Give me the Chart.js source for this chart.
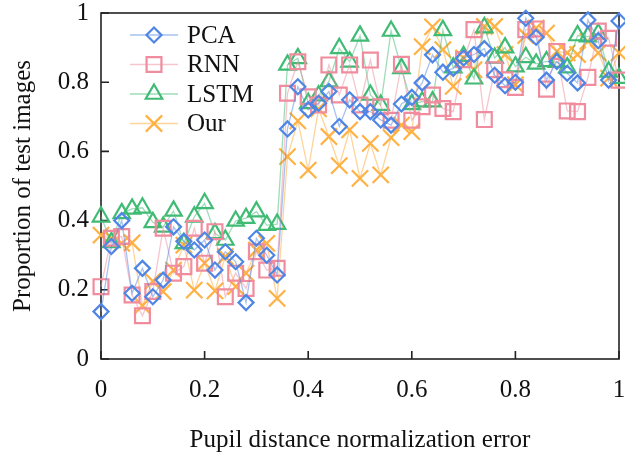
<!DOCTYPE html>
<html><head><meta charset="utf-8">
<script src="https://cdn.jsdelivr.net/npm/chart.js@4/dist/chart.umd.min.js"></script>
<style>html,body{margin:0;padding:0;background:#fff}#wrap{width:625px;height:455px}</style>
</head><body><div id="wrap"><canvas id="c" width="625" height="455"></canvas></div>
<script>
const xValues = [0,0.02,0.04,0.06,0.08,0.1,0.12,0.14,0.16,0.18,0.2,0.22,0.24,0.26,0.28,0.3,0.32,0.34,0.36,0.38,0.4,0.42,0.44,0.46,0.48,0.5,0.52,0.54,0.56,0.58,0.6,0.62,0.64,0.66,0.68,0.7,0.72,0.74,0.76,0.78,0.8,0.82,0.84,0.86,0.88,0.9,0.92,0.94,0.96,0.98,1];
const pcaValues = [0.137,0.325,0.40,0.19,0.262,0.18,0.228,0.382,0.34,0.315,0.344,0.257,0.31,0.281,0.163,0.349,0.30,0.243,0.665,0.787,0.72,0.739,0.773,0.672,0.749,0.715,0.715,0.691,0.676,0.737,0.756,0.798,0.879,0.829,0.84,0.87,0.88,0.897,0.82,0.79,0.80,0.985,0.93,0.806,0.86,0.826,0.798,0.98,0.92,0.806,0.977];
const rnnValues = [0.209,0.349,0.354,0.185,0.125,0.195,0.378,0.248,0.267,0.378,0.277,0.368,0.18,0.248,0.204,0.31,0.257,0.262,0.768,0.859,0.758,0.734,0.85,0.763,0.85,0.734,0.864,0.729,0.69,0.852,0.69,0.729,0.763,0.724,0.715,0.865,0.952,0.692,0.836,0.807,0.785,0.952,0.954,0.78,0.889,0.717,0.715,0.814,0.948,0.927,0.806];
const lstmValues = [0.411,0.337,0.421,0.434,0.437,0.395,0.382,0.428,0.334,0.411,0.45,0.363,0.344,0.399,0.407,0.426,0.387,0.39,0.85,0.869,0.739,0.761,0.802,0.898,0.859,0.934,0.763,0.734,0.948,0.84,0.736,0.744,0.744,0.95,0.842,0.875,0.81,0.958,0.87,0.90,0.845,0.872,0.853,0.86,0.858,0.842,0.935,0.932,0.94,0.83,0.812];
const ourValues = [0.358,0.349,0.334,0.336,0.154,0.225,0.195,0.257,0.329,0.199,0.277,0.197,0.296,0.209,0.248,0.315,0.334,0.175,0.585,0.688,0.546,0.723,0.643,0.559,0.662,0.522,0.623,0.532,0.64,0.676,0.657,0.903,0.96,0.894,0.788,0.87,0.836,0.961,0.961,0.88,0.793,0.935,0.956,0.942,0.889,0.885,0.88,0.918,0.885,0.812,0.885];
const xTickLabels = ['0','0.2','0.4','0.6','0.8','1'];
const yTickLabels = ['0','0.2','0.4','0.6','0.8','1'];
const seriesNames = ['PCA','RNN','LSTM','Our'];

const FONT = "'Liberation Serif','Times New Roman',serif";
const styles = [
  {color:'#4f86e6', line:'rgba(79,134,230,0.5)', pointStyle:'rectRot', r:7.5},
  {color:'#f08c9e', line:'rgba(240,140,158,0.5)', pointStyle:'rect', r:10.5},
  {color:'#3fbb74', line:'rgba(63,187,116,0.5)', pointStyle:'triangle', r:9.5},
  {color:'#ffb143', line:'rgba(255,177,67,0.55)', pointStyle:'crossRot', r:11.5}
];
const seriesValues = [pcaValues, rnnValues, lstmValues, ourValues];

const datasets = seriesNames.map((name, k) => ({
  label: name,
  data: xValues.map((x, i) => ({x: x, y: seriesValues[k][i]})),
  borderColor: styles[k].line,
  borderWidth: 1.3,
  pointStyle: styles[k].pointStyle,
  pointRadius: styles[k].r,
  pointHoverRadius: styles[k].r,
  pointBorderColor: styles[k].color,
  pointBackgroundColor: 'rgba(255,255,255,0)',
  pointBorderWidth: 2.2,
  tension: 0,
  clip: false
}));

function drawMarker(ctx, style, r, x, y) {
  ctx.beginPath();
  if (style === 'rectRot') {
    ctx.moveTo(x, y - r); ctx.lineTo(x + r, y); ctx.lineTo(x, y + r); ctx.lineTo(x - r, y); ctx.closePath();
  } else if (style === 'rect') {
    const s = r * Math.SQRT1_2; ctx.rect(x - s, y - s, 2 * s, 2 * s);
  } else if (style === 'triangle') {
    ctx.moveTo(x, y - r);
    ctx.lineTo(x + r * Math.sin(Math.PI / 3), y + r / 2);
    ctx.lineTo(x - r * Math.sin(Math.PI / 3), y + r / 2);
    ctx.closePath();
  } else if (style === 'crossRot') {
    const s = r * Math.SQRT1_2;
    ctx.moveTo(x - s, y - s); ctx.lineTo(x + s, y + s);
    ctx.moveTo(x + s, y - s); ctx.lineTo(x - s, y + s);
  }
  ctx.stroke();
}

const framePlugin = {
  id: 'frame',
  beforeDatasetsDraw(chart) {
    const {ctx, chartArea: a, scales} = chart;
    ctx.save();
    ctx.strokeStyle = '#222';
    ctx.lineWidth = 1.6;
    ctx.strokeRect(a.left, a.top, a.right - a.left, a.bottom - a.top);
    ctx.beginPath();
    scales.x.ticks.forEach(t => {
      const px = scales.x.getPixelForValue(t.value);
      ctx.moveTo(px, a.bottom); ctx.lineTo(px, a.bottom - 8);
    });
    scales.y.ticks.forEach(t => {
      const py = scales.y.getPixelForValue(t.value);
      ctx.moveTo(a.left, py); ctx.lineTo(a.left + 8, py);
    });
    ctx.stroke();
    ctx.restore();
  },
  afterDatasetsDraw(chart) {
    const {ctx} = chart;
    ctx.save();
    const x0 = 130, x1 = 178, tx = 187;
    const ys = [35, 64.5, 94, 123.5];
    chart.data.datasets.forEach((ds, k) => {
      const y = ys[k];
      ctx.strokeStyle = styles[k].line;
      ctx.lineWidth = 1.5;
      ctx.beginPath(); ctx.moveTo(x0, y); ctx.lineTo(x1, y); ctx.stroke();
      ctx.strokeStyle = styles[k].color;
      ctx.lineWidth = 2.2;
      drawMarker(ctx, styles[k].pointStyle, styles[k].r, (x0 + x1) / 2, y);
      ctx.fillStyle = '#111';
      ctx.font = '25px ' + FONT;
      ctx.textBaseline = 'middle';
      ctx.textAlign = 'left';
      ctx.fillText(ds.label, tx, y + 1);
    });
    ctx.restore();
  }
};

new Chart(document.getElementById('c'), {
  type: 'line',
  data: {datasets},
  plugins: [framePlugin],
  options: {
    responsive: false,
    animation: false,
    events: [],
    layout: {autoPadding: false, padding: {left: 8, top: 13, right: 6, bottom: 0}},
    plugins: {legend: {display: false}, tooltip: {enabled: false}},
    scales: {
      x: {
        type: 'linear', min: 0, max: 1,
        grid: {display: false, drawTicks: false},
        border: {display: false},
        ticks: {
          stepSize: 0.2, padding: 16, color: '#111', maxRotation: 0,
          font: {family: FONT, size: 25},
          callback: (v, i) => xTickLabels[i]
        },
        title: {display: true, text: 'Pupil distance normalization error', color: '#111',
          font: {family: FONT, size: 25}, padding: 0},
        afterFit(s) { s.height = 96; s.paddingLeft = 0; s.paddingRight = 0; }
      },
      y: {
        min: 0, max: 1,
        grid: {display: false, drawTicks: false},
        border: {display: false},
        ticks: {
          stepSize: 0.2, padding: 12, color: '#111',
          font: {family: FONT, size: 25},
          callback: (v, i) => yTickLabels[i]
        },
        title: {display: true, text: 'Proportion of test images', color: '#111',
          font: {family: FONT, size: 25}, padding: 0},
        afterFit(s) { s.width = 93; s.paddingTop = 0; s.paddingBottom = 0; }
      }
    }
  }
});
</script>
</body></html>
